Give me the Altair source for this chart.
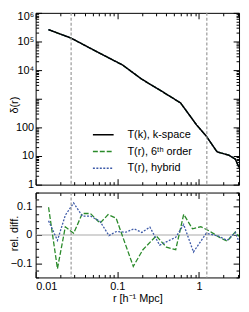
import altair as alt
import pandas as pd

# ---------------- data ----------------
series_names = ["T(k), k-space", "T(r), 6ᵗʰ order", "T(r), hybrid"]
series_colors = ["#000000", "#2a8a2a", "#3d5aa8"]
series_dash = [[1, 0], [5, 2], [2, 1.5]]

# top panel: delta(r)
r_top = [0.01436, 0.0272, 0.0537, 0.116, 0.2, 0.345, 0.596, 0.94, 1.23, 1.62, 1.69, 2.33, 2.79, 3.1]
delta_top = [2.6e5, 1.31e5, 4.7e4, 1.51e4, 4.8e3, 1.88e3, 715, 120, 49.5, 15.8, 13.8, 10.7, 7.8, 4.0]

# bottom panel: relative differences
r_6th = [0.0144, 0.0185, 0.0231, 0.0292, 0.0373, 0.0469, 0.0615, 0.0772, 0.0969, 0.157, 0.206,
         0.30, 0.40, 0.52, 0.651, 0.834, 1.056, 1.35, 1.77, 2.22, 2.79, 3.1]
rel_6th = [0.098, -0.119, 0.029, 0.006, 0.076, 0.076, 0.042, 0.072, 0.059, -0.111, -0.052,
           -0.003, -0.043, -0.052, 0.073, 0.022, 0.029, 0.014, -0.008, -0.022, 0.011, -0.005]
r_hyb = [0.0144, 0.0185, 0.0231, 0.0292, 0.0373, 0.0469, 0.0615, 0.079, 0.0969, 0.128, 0.160,
         0.200, 0.251, 0.330, 0.52, 0.651, 0.857, 1.23, 1.7, 2.22, 2.79, 3.1]
rel_hyb = [0.05, -0.019, 0.07, 0.113, 0.067, 0.067, 0.048, -0.002, 0.012, 0.010, 0.022,
           0.009, 0.028, -0.036, -0.008, 0.037, -0.060, 0.006, -0.003, -0.019, 0.009, -0.024]

r_marks = [0.0272, 1.25]
zero_line = [0]

# axis ticks / labels
x_ticks = [0.01, 0.02, 0.03, 0.04, 0.05, 0.06, 0.07, 0.08, 0.09,
           0.1, 0.2, 0.3, 0.4, 0.5, 0.6, 0.7, 0.8, 0.9, 1, 2, 3]
x_labels = [0.01, 0.1, 1]
y_ticks = [1, 2, 3, 4, 5, 6, 7, 8, 9,
           10, 20, 30, 40, 50, 60, 70, 80, 90,
           100, 200, 300, 400, 500, 600, 700, 800, 900,
           1000, 2000, 3000, 4000, 5000, 6000, 7000, 8000, 9000,
           10000, 20000, 30000, 40000, 50000, 60000, 70000, 80000, 90000,
           100000, 200000, 300000, 400000, 500000, 600000, 700000, 800000, 900000,
           1000000]
y_labels = [1, 10, 100, 10000, 100000, 1000000]
rel_ticks = [-0.15, -0.125, -0.1, -0.075, -0.05, -0.025, 0, 0.025, 0.05, 0.075, 0.1, 0.125, 0.15]
rel_labels = [-0.1, 0, 0.1]

# ---------------- layout ----------------
W = 206
HT = 174
HB = 86
FONT = "Liberation Sans"

xscale = alt.Scale(type="log", domain=[0.01, 3.1], nice=False)
yscale_top = alt.Scale(type="log", domain=[1, 1e6], nice=False)
yscale_rel = alt.Scale(domain=[-0.15, 0.15], nice=False, zero=False)

LOGMAJOR = "abs(log(datum.value)/LN10 - round(log(datum.value)/LN10)) < 0.001"
RELMAJOR = "abs(datum.value*10 - round(datum.value*10)) < 0.001"


def tick_axis(orient, offset, values, test):
    return alt.Axis(orient=orient, offset=offset, values=values, labels=False, domain=False,
                    title=None, grid=False, ticks=True, minExtent=0, tickColor="black",
                    tickWidth=1,
                    tickSize={"condition": {"test": test, "value": 6}, "value": 3})


df_top_k = pd.DataFrame({"r": r_top, "v": delta_top, "s": series_names[0]})
df_top_6 = pd.DataFrame({"r": r_top, "v": delta_top, "s": series_names[1]})
df_top_h = pd.DataFrame({"r": r_top, "v": delta_top, "s": series_names[2]})
df_marks = pd.DataFrame({"r": r_marks})
df_6 = pd.DataFrame({"r": r_6th, "v": rel_6th})
df_h = pd.DataFrame({"r": r_hyb, "v": rel_hyb})
df_zero = pd.DataFrame({"z": zero_line})

legend = alt.Legend(title=None, orient="none", legendX=57, legendY=112, symbolType="stroke",
                    symbolSize=441, symbolStrokeWidth=1.5, labelFont=FONT, labelFontSize=11,
                    labelColor="black", labelOffset=13, rowPadding=-9, padding=0)
color_enc = alt.Color("s:N", scale=alt.Scale(domain=series_names, range=series_colors), legend=legend)
dash_enc = alt.StrokeDash("s:N", scale=alt.Scale(domain=series_names, range=series_dash), legend=legend)

ay_labels = alt.Axis(orient="left", values=y_labels, ticks=False, domain=False, grid=False,
                     labelPadding=2, minExtent=0,
                     labelOffset={"condition": {"test": "datum.value > 500000", "value": 4}, "value": 0},
                     labelExpr="datum.value > 500000 ? '10⁶' : datum.value > 50000 ? '10⁵' : "
                               "datum.value > 5000 ? '10⁴' : format(datum.value, 'd')",
                     title="δ(r)", titleX=-16, titleY=93)

top_6 = alt.Chart(df_top_6).mark_line(clip=True, strokeWidth=1.3).encode(
    x=alt.X("r:Q", scale=xscale, axis=tick_axis("top", -HT, x_ticks, LOGMAJOR)),
    y=alt.Y("v:Q", scale=yscale_top, axis=ay_labels),
    color=color_enc, strokeDash=dash_enc)
top_h = alt.Chart(df_top_h).mark_line(clip=True, strokeWidth=1.3).encode(
    x=alt.X("r:Q", scale=xscale, axis=tick_axis("bottom", -HT, x_ticks, LOGMAJOR)),
    y=alt.Y("v:Q", scale=yscale_top, axis=tick_axis("right", -W, y_ticks, LOGMAJOR)),
    color=color_enc, strokeDash=dash_enc)
top_k = alt.Chart(df_top_k).mark_line(clip=True, strokeWidth=1.5).encode(
    x=alt.X("r:Q", scale=xscale, axis=None),
    y=alt.Y("v:Q", scale=yscale_top, axis=tick_axis("left", -W, y_ticks, LOGMAJOR)),
    color=color_enc, strokeDash=dash_enc)
top_marks = alt.Chart(df_marks).mark_rule(color="#999999", strokeDash=[3, 2], strokeWidth=1.2).encode(
    x=alt.X("r:Q", scale=xscale, axis=None))

top = alt.layer(top_6, top_h, top_k, top_marks).resolve_axis(
    x="independent", y="independent").properties(width=W, height=HT)

bx_labels = alt.Axis(orient="bottom", values=x_labels, ticks=False, domain=False, grid=False,
                     labelPadding=3, minExtent=0,
                     labelExpr="datum.value > 0.5 ? '1' : datum.value > 0.05 ? '0.1' : '0.01'",
                     title="r [h⁻¹ Mpc]", titlePadding=1)
by_labels = alt.Axis(orient="left", values=rel_labels, ticks=False, domain=False, grid=False,
                     labelPadding=4, minExtent=0,
                     labelExpr="datum.value < -0.05 ? '−0.1' : datum.value > 0.05 ? '0.1' : '0'",
                     title="rel. diff.", titleX=-16, titleY=41)

bot_zero = alt.Chart(df_zero).mark_rule(color="#aaaaaa", strokeWidth=1.2).encode(
    y=alt.Y("z:Q", scale=yscale_rel, axis=tick_axis("left", -W, rel_ticks, RELMAJOR)))
bot_6 = alt.Chart(df_6).mark_line(clip=True, strokeWidth=1.3, color=series_colors[1],
                                  strokeDash=series_dash[1]).encode(
    x=alt.X("r:Q", scale=xscale, axis=bx_labels),
    y=alt.Y("v:Q", scale=yscale_rel, axis=by_labels))
bot_h = alt.Chart(df_h).mark_line(clip=True, strokeWidth=1.3, color=series_colors[2],
                                  strokeDash=series_dash[2]).encode(
    x=alt.X("r:Q", scale=xscale, axis=tick_axis("top", -HB, x_ticks, LOGMAJOR)),
    y=alt.Y("v:Q", scale=yscale_rel, axis=tick_axis("right", -W, rel_ticks, RELMAJOR)))
bot_marks = alt.Chart(df_marks).mark_rule(color="#999999", strokeDash=[3, 2], strokeWidth=1.2).encode(
    x=alt.X("r:Q", scale=xscale, axis=tick_axis("bottom", -HB, x_ticks, LOGMAJOR)))

bottom = alt.layer(bot_zero, bot_6, bot_h, bot_marks).resolve_axis(
    x="independent", y="independent").properties(width=W, height=HB)

chart = alt.vconcat(top, bottom, spacing=0).resolve_scale(
    color="independent", strokeDash="independent"
).properties(padding={"left": 0, "top": 0, "right": 0, "bottom": 0}).configure(
    font=FONT
).configure_axis(
    labelFont=FONT, labelFontSize=11, labelColor="black",
    titleFont=FONT, titleFontSize=11, titleFontWeight="normal", titleColor="black"
).configure_view(stroke="black", strokeWidth=1)

chart.save("out.html", embed_options={"renderer": "svg", "actions": False})
